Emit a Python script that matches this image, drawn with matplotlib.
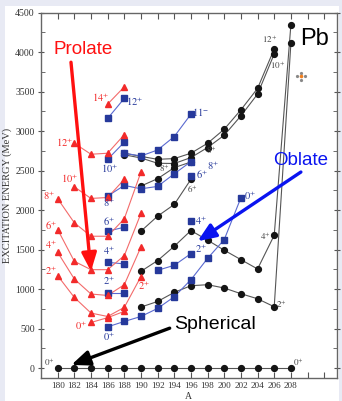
import matplotlib
matplotlib.use('Agg')
import matplotlib.pyplot as plt
from matplotlib.patches import Rectangle
from matplotlib.ticker import MultipleLocator

plt.rcParams['mathtext.fontset'] = 'stix'
plt.rcParams['font.family'] = ['Liberation Serif', 'DejaVu Serif']

# ---------------- data ----------------
A_all = [180, 182, 184, 186, 188, 190, 192, 194, 196, 198, 200, 202, 204, 206, 208]
gs_E = [0, 0, 0, 0, 0, 0, 0, 0, 0, 0, 0, 0, 0, 0, 0]

# prolate bands (red triangles)
pro0_A = [184, 186, 188]
pro0_E = [579, 640, 720]
pro2_A = [180, 182, 184, 186, 188, 190]
pro2_E = [1171, 896, 698, 655, 770, 1160]
pro4_A = [180, 182, 184, 186, 188, 190]
pro4_E = [1467, 1129, 939, 921, 1057, 1535]
pro6_A = [180, 182, 184, 186, 188, 190]
pro6_E = [1755, 1353, 1247, 1247, 1425, 1958]
pro8_A = [180, 182, 184, 186, 188, 190]
pro8_E = [2145, 1840, 1670, 1670, 1891, 2482]
pro10_A = [182, 184, 186, 188]
pro10_E = [2295, 2148, 2160, 2390]
pro12_A = [182, 184, 186, 188]
pro12_E = [2846, 2707, 2720, 2955]
pro14_A = [186, 188]
pro14_E = [3341, 3560]

# oblate bands (blue squares)
obl0_A = [186, 188, 190, 192, 194, 196, 198, 200, 202]
obl0_E = [524, 592, 655, 757, 905, 1120, 1390, 1628, 2157]
obl2_A = [186, 188]
obl2_E = [950, 950]
obl2b_A = [192, 194, 196]
obl2b_E = [1239, 1302, 1450]
obl4_A = [186, 188]
obl4_E = [1340, 1320]
obl4b_A = [196]
obl4b_E = [1861]
obl6_A = [186, 188]
obl6_E = [1734, 1784]
obl6b_A = [196]
obl6b_E = [2431]
obl8_A = [186, 188, 190, 192, 194, 196]
obl8_E = [2178, 2313, 2270, 2300, 2460, 2614]
obl10_A = [186, 188]
obl10_E = [2643, 2860]
obl11_A = [188, 190, 192, 194, 196]
obl11_E = [2720, 2685, 2761, 2931, 3214]
obl12_A = [186, 188]
obl12_E = [3160, 3414]

# spherical / other states (black circles)
sph2_A = [190, 192, 194, 196, 198, 200, 202, 204, 206, 208]
sph2_E = [774, 845, 960, 1044, 1057, 1015, 943, 879, 778, 4111]
sph4_A = [190, 192, 194, 196, 198, 200, 202, 204, 206, 208]
sph4_E = [1226, 1362, 1543, 1742, 1620, 1493, 1374, 1256, 1683, 4344]
sph6_A = [190, 192, 194, 196]
sph6_E = [1734, 1924, 2072, 2390]
sph8_A = [190, 192, 194, 196]
sph8_E = [2305, 2398, 2538, 2609]
sph10_A = [188, 190, 192, 194, 196, 198, 200, 202, 204, 206]
sph10_E = [2700, 2660, 2593, 2590, 2665, 2792, 2948, 3193, 3468, 3976]
sph12_A = [188, 190, 192, 194, 196, 198, 200, 202, 204, 206]
sph12_E = [2720, 2680, 2643, 2652, 2720, 2846, 3024, 3269, 3540, 4039]

red_labels = [(185.2, 3417, '14'), (180.8, 2846, '12'), (181.4, 2390, '10'), (179.0, 2178, '8'),
              (179.2, 1806, '6'), (179.2, 1565, '4'), (179.2, 1226, '2'), (182.8, 537, '0'),
              (190.4, 1036, '2')]
blue_labels = [(189.2, 3363, '12^{+}'), (186.2, 2525, '10^{+}'), (186.2, 2094, '8^{+}'),
               (186.2, 1848, '6^{+}'), (186.2, 1480, '4^{+}'), (186.2, 1099, '2^{+}'),
               (186.2, 401, '0^{+}'), (197.1, 3236, '11^{-}'), (197.2, 1869, '4^{+}'),
               (197.2, 1510, '2^{+}'), (203.1, 2178, '0^{+}'), (197.3, 2440, '6^{+}'),
               (198.7, 2565, '8^{+}')]
black_labels = [(192.8, 2525, '8^{+}'), (198.4, 2760, '8^{+}'), (196.2, 2262, '6^{+}'),
                (205.4, 4158, '12^{+}'), (206.4, 3827, '10^{+}'), (204.9, 1670, '4^{+}'),
                (206.9, 803, '2^{+}'), (179.0, 71, '0^{+}'), (208.9, 71, '0^{+}')]

# ---------------- figure ----------------
fig = plt.figure(figsize=(3.42, 4.01), dpi=100)
fig.patch.set_facecolor('#e8eaf4')
fig.patches.append(Rectangle((5 / 342, 0), 334 / 342, 395 / 401, transform=fig.transFigure,
                             facecolor='white', edgecolor='none', zorder=-10))
ax = fig.add_axes([41 / 342, 1 - 378.3 / 401, (336.7 - 41) / 342, (378.3 - 12.5) / 401])
ax.set_xlim(178, 213.5)
ax.set_ylim(-127, 4500)

RED_M, RED_L = '#f22a2a', '#f36b6b'
BLU_M, BLU_L = '#26399b', '#5a6ad0'
BLK_M, BLK_L = '#151515', '#555555'

def band(A, E, kind):
    if kind == 'r':
        ax.plot(A, E, '-', color=RED_L, lw=0.8, zorder=3)
        ax.plot(A, E, '^', color=RED_M, ms=4.5, mec=RED_M, zorder=4, ls='none')
    elif kind == 'b':
        ax.plot(A, E, '-', color=BLU_L, lw=0.8, zorder=3)
        ax.plot(A, E, 's', color=BLU_M, ms=3.8, mec=BLU_M, zorder=4, ls='none')
    else:
        ax.plot(A, E, '-', color=BLK_L, lw=0.8, zorder=2)
        ax.plot(A, E, 'o', color=BLK_M, ms=4.2, mec=BLK_M, zorder=4, ls='none')

band(A_all, gs_E, 'k')
for A, E in [(sph2_A, sph2_E), (sph4_A, sph4_E), (sph6_A, sph6_E), (sph8_A, sph8_E),
             (sph10_A, sph10_E), (sph12_A, sph12_E)]:
    band(A, E, 'k')
for A, E in [(obl0_A, obl0_E), (obl2_A, obl2_E), (obl2b_A, obl2b_E), (obl4_A, obl4_E),
             (obl4b_A, obl4b_E), (obl6_A, obl6_E), (obl6b_A, obl6b_E), (obl8_A, obl8_E),
             (obl10_A, obl10_E), (obl11_A, obl11_E), (obl12_A, obl12_E)]:
    band(A, E, 'b')
for A, E in [(pro0_A, pro0_E), (pro2_A, pro2_E), (pro4_A, pro4_E), (pro6_A, pro6_E),
             (pro8_A, pro8_E), (pro10_A, pro10_E), (pro12_A, pro12_E), (pro14_A, pro14_E)]:
    band(A, E, 'r')

for x, y, s in red_labels:
    ax.text(x, y, r'$%s^{+}$' % s, color=RED_M, fontsize=7.5, ha='center', va='center', zorder=6)
for x, y, s in blue_labels:
    ax.text(x, y, r'$%s$' % s, color=BLU_M, fontsize=7.5, ha='center', va='center', zorder=6)
for x, y, s in black_labels:
    ax.text(x, y, r'$%s$' % s, color='#444444', fontsize=6.5, ha='center', va='center', zorder=6)

# annotations
sans = ['Liberation Sans', 'DejaVu Sans']
ax.text(183.1, 4027, 'Prolate', color='#ff1010', fontsize=13.5, family=sans, ha='center', va='center', zorder=7)
ax.annotate('', xy=(184.0, 1226), xytext=(181.6, 3871),
            arrowprops=dict(arrowstyle='-|>,head_length=1.1,head_width=0.45', color='#ff1010', lw=2.4,
                            shrinkA=0, shrinkB=0), zorder=7)
ax.text(210.85, 4166, 'Pb', color='black', fontsize=17, family=sans, ha='center', va='center', zorder=7)
ax.text(209.2, 2624, 'Oblate', color='#0a14f0', fontsize=13.5, family=sans, ha='center', va='center', zorder=7)
ax.annotate('', xy=(196.8, 1607), xytext=(209.2, 2482),
            arrowprops=dict(arrowstyle='-|>,head_length=1.1,head_width=0.45', color='#0a14f0', lw=2.4,
                            shrinkA=0, shrinkB=0), zorder=7)
ax.text(198.9, 556, 'Spherical', color='black', fontsize=14, family=sans, ha='center', va='center', zorder=7)
ax.annotate('', xy=(181.64, 42), xytext=(193.45, 507),
            arrowprops=dict(arrowstyle='-|>,head_length=1.1,head_width=0.45', color='black', lw=2.4,
                            shrinkA=0, shrinkB=0), zorder=7)
# small cursor-like icon
for dx, dy in [(-0.45, 0), (0.45, 0), (0, -45), (0, 45)]:
    ax.plot(209.2 + dx, 3693 + dy, marker='o', ms=1.3, color='#888888', zorder=7)
ax.plot(209.2, 3693, marker='o', ms=1.6, color='#f08020', zorder=7)

# axes style
xt = list(range(180, 214, 2))
ax.set_xticks(xt)
ax.set_xticklabels([str(v) if v <= 208 else '' for v in xt])
ax.yaxis.set_major_locator(MultipleLocator(500))
ax.yaxis.set_minor_locator(MultipleLocator(250))
ax.tick_params(axis='x', direction='in', length=4, top=True, labelsize=6.6, pad=3, color='#555555')
ax.tick_params(axis='y', which='major', direction='inout', length=5, right=True, labelsize=7,
               pad=2, color='#555555')
ax.tick_params(axis='y', which='minor', direction='in', length=3, right=True, color='#555555')
for lab in ax.get_xticklabels() + ax.get_yticklabels():
    lab.set_color('#333333')
for sp in ax.spines.values():
    sp.set_color('#666666')
    sp.set_linewidth(1.0)
ax.set_xlabel('A', fontsize=7, color='#333333', labelpad=1)
ax.set_ylabel('EXCITATION ENERGY (MeV)', fontsize=7.5, color='#333333', labelpad=2)

fig.savefig('out.png', dpi=100, facecolor=fig.get_facecolor())
